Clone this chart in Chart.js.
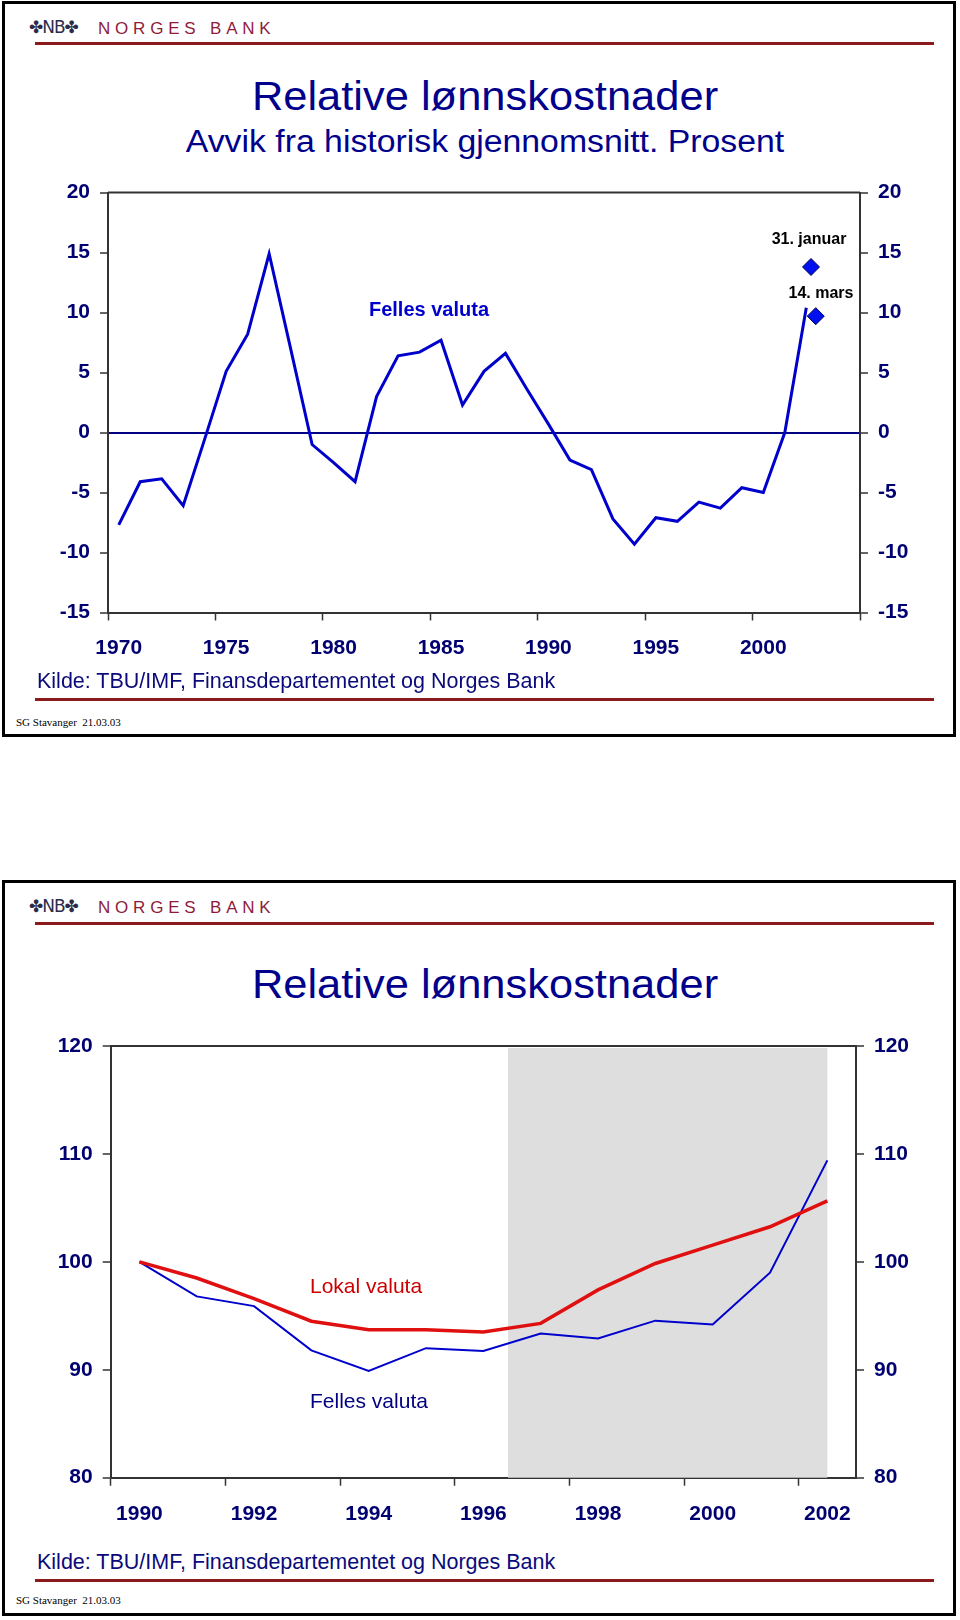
<!DOCTYPE html>
<html lang="no">
<head>
<meta charset="utf-8">
<title>Relative lønnskostnader</title>
<script src="https://cdn.jsdelivr.net/npm/chart.js@4.4.1/dist/chart.umd.min.js"></script>
<style>
  html, body { margin: 0; padding: 0; background: #fff; }
  body { width: 960px; height: 1620px; position: relative; overflow: hidden; font-family: 'Liberation Sans', Arial, sans-serif; }
  .panel { position: absolute; left: 2px; width: 954px; border: 3px solid #000; box-sizing: border-box; }
  .txt { position: absolute; white-space: nowrap; transform: translateY(-50%); line-height: 1; z-index: 2; }
  .center { transform: translate(-50%, -50%); }
  .logo-mark { font-family: 'DejaVu Sans', sans-serif; font-size: 17px; color: #2b2b4a; letter-spacing: -1px; }
  .logo-name { font-size: 17px; letter-spacing: 4.8px; color: #8e1b3a; }
  .rule { position: absolute; left: 35px; width: 899px; height: 3px; background: #8b1a1a; }
  .title { font-size: 41px; color: #00008b; transform: translate(-50%, -50%) scaleX(1.06); }
  .subtitle { font-size: 31px; color: #00008b; transform: translate(-50%, -50%) scaleX(1.09); }
  .source { font-size: 21.5px; color: #0a0a7a; }
  .stamp { font-family: 'Liberation Serif', 'Times New Roman', serif; font-size: 11px; color: #000; }
  canvas { position: absolute; left: 0; z-index: 1; }
</style>
</head>
<body>

<div class="panel" style="top:1px; height:736px;"></div>
<div class="panel" style="top:880px; height:736px;"></div>

<!-- Panel 1 -->
<div class="txt logo-mark" style="left:29px; top:27px;">✤NB✤</div>
<div class="txt logo-name" style="left:98px; top:27.5px;">NORGES BANK</div>
<div class="rule" style="top:42px;"></div>
<div class="txt title" style="left:485px; top:96px;">Relative lønnskostnader</div>
<div class="txt subtitle" style="left:485px; top:141px;">Avvik fra historisk gjennomsnitt. Prosent</div>
<div class="txt center" style="left:429px; top:309px; font-size:20px; font-weight:bold; color:#0000cc;">Felles valuta</div>
<div class="txt center" style="left:809px; top:239px; font-size:16px; font-weight:bold; color:#000;">31. januar</div>
<div class="txt center" style="left:821px; top:293px; font-size:16px; font-weight:bold; color:#000;">14. mars</div>
<div class="txt source" style="left:37px; top:682px;">Kilde: TBU/IMF, Finansdepartementet og Norges Bank</div>
<div class="rule" style="top:698px;"></div>
<div class="txt stamp" style="left:16px; top:722px;">SG Stavanger&nbsp; 21.03.03</div>

<!-- Panel 2 -->
<div class="txt logo-mark" style="left:29px; top:906px;">✤NB✤</div>
<div class="txt logo-name" style="left:98px; top:906.5px;">NORGES BANK</div>
<div class="rule" style="top:922px;"></div>
<div class="txt title" style="left:485px; top:984px;">Relative lønnskostnader</div>
<div class="txt" style="left:310px; top:1285px; font-size:21px; color:#cc0000;">Lokal valuta</div>
<div class="txt" style="left:310px; top:1400px; font-size:21px; color:#000080;">Felles valuta</div>
<div class="txt source" style="left:37px; top:1563px;">Kilde: TBU/IMF, Finansdepartementet og Norges Bank</div>
<div class="rule" style="top:1579px;"></div>
<div class="txt stamp" style="left:16px; top:1600px;">SG Stavanger&nbsp; 21.03.03</div>

<canvas id="avvikChart" width="960" height="500" style="top:170px;"></canvas>
<canvas id="indeksChart" width="960" height="520" style="top:1020px;"></canvas>

<script>
// ---- Top chart: deviation from historical mean, percent ----
const avvikYears = [1970, 1971, 1972, 1973, 1974, 1975, 1976, 1977, 1978, 1979,
  1980, 1981, 1982, 1983, 1984, 1985, 1986, 1987, 1988, 1989,
  1990, 1991, 1992, 1993, 1994, 1995, 1996, 1997, 1998, 1999,
  2000, 2001, 2002];
const fellesAvvik = [-7.7, -4.1, -3.85, -6.1, -0.55, 5.1, 8.2, 14.9, 7.0, -1.0,
  -2.5, -4.1, 3.0, 6.4, 6.7, 7.7, 2.3, 5.1, 6.6, 3.6,
  0.7, -2.3, -3.1, -7.2, -9.3, -7.1, -7.4, -5.8, -6.3, -4.6,
  -5.0, 0.0, 10.4];
// 2003 observations (31. januar, 14. mars)
const markerX = [2002.22, 2002.44];
const markerY = [13.8, 9.7];
const avvikXLabels = ['1970', '1975', '1980', '1985', '1990', '1995', '2000'];
const avvikYTicks = [-15, -10, -5, 0, 5, 10, 15, 20];

// ---- Bottom chart: index 1990 = 100 ----
const indeksYears = [1990, 1991, 1992, 1993, 1994, 1995, 1996, 1997, 1998, 1999, 2000, 2001, 2002];
const lokalValuta = [100, 98.5, 96.6, 94.5, 93.7, 93.7, 93.5, 94.3, 97.4, 99.85, 101.55, 103.25, 105.65];
const fellesValuta = [100, 96.8, 95.9, 91.8, 89.9, 92.0, 91.75, 93.35, 92.9, 94.55, 94.2, 99.0, 109.4];
const indeksXLabels = ['1990', '1992', '1994', '1996', '1998', '2000', '2002'];
const indeksYTicks = [80, 90, 100, 110, 120];
const shadeSpan = [1996.43, 2002.0];

const FONT = "'Liberation Sans', Arial, sans-serif";
const tickFont = { family: FONT, size: 21, weight: 'bold' };
const LABEL_COLOR = '#000070';
const AXIS_COLOR = '#333';

// draws the top edge of the plot box
const frameTop = {
  id: 'frameTop',
  afterDraw(chart) {
    const { ctx, chartArea: a } = chart;
    ctx.save();
    ctx.strokeStyle = AXIS_COLOR;
    ctx.lineWidth = 2;
    ctx.beginPath();
    ctx.moveTo(a.left, a.top);
    ctx.lineTo(a.right, a.top);
    ctx.stroke();
    ctx.restore();
  }
};

// grey forecast band in the index chart
const shadeBand = {
  id: 'shadeBand',
  beforeDatasetsDraw(chart) {
    const { ctx, chartArea: a, scales } = chart;
    const x0 = scales.x.getPixelForValue(shadeSpan[0]);
    const x1 = scales.x.getPixelForValue(shadeSpan[1]);
    ctx.save();
    ctx.fillStyle = '#dedede';
    ctx.fillRect(x0, a.top + 2, x1 - x0, a.bottom - a.top - 2);
    ctx.restore();
  }
};

function yAxis(position, ticks, width, zeroLine) {
  return {
    type: 'linear',
    position: position,
    min: ticks[0],
    max: ticks[ticks.length - 1],
    afterBuildTicks: s => { s.ticks = ticks.map(v => ({ value: v })); },
    afterFit: s => { s.width = width; },
    border: { color: AXIS_COLOR, width: 2 },
    grid: {
      drawOnChartArea: !!zeroLine,
      color: c => (zeroLine && c.tick && c.tick.value === 0) ? '#000080' : 'rgba(0,0,0,0)',
      lineWidth: 2,
      tickColor: AXIS_COLOR,
      tickWidth: 1.5,
      tickLength: 8
    },
    ticks: { font: tickFont, color: LABEL_COLOR, padding: 10 }
  };
}

function xAxis(labels, lastBoundary, height, labelOffset, padding) {
  return {
    type: 'linear',
    position: 'bottom',
    min: Number(labels[0]) - 0.5,
    max: lastBoundary,
    afterBuildTicks: s => {
      const t = labels.map(l => ({ value: Number(l) - 0.5 }));
      if (lastBoundary > t[t.length - 1].value + 1) t.push({ value: lastBoundary });
      s.ticks = t;
    },
    afterFit: s => { s.height = height; },
    border: { color: AXIS_COLOR, width: 2 },
    grid: { drawOnChartArea: false, tickColor: AXIS_COLOR, tickWidth: 1.5, tickLength: 8 },
    ticks: {
      font: tickFont,
      color: LABEL_COLOR,
      padding: padding,
      maxRotation: 0,
      autoSkip: false,
      labelOffset: labelOffset,
      callback: v => {
        const lbl = String(v + 0.5);
        return labels.includes(lbl) ? lbl : '';
      }
    }
  };
}

const baseOptions = {
  responsive: false,
  animation: false,
  devicePixelRatio: 1,
  plugins: { legend: { display: false }, tooltip: { enabled: false } },
  elements: { point: { radius: 0 }, line: { tension: 0 } }
};

new Chart(document.getElementById('avvikChart'), {
  type: 'line',
  data: {
    datasets: [
      {
        label: 'Felles valuta',
        data: avvikYears.map((y, i) => ({ x: y, y: fellesAvvik[i] })),
        borderColor: '#0000cc',
        borderWidth: 3,
        pointRadius: 0
      },
      {
        label: '2003',
        data: markerX.map((x, i) => ({ x: x, y: markerY[i] })),
        showLine: false,
        pointStyle: 'rectRot',
        pointRadius: 8.5,
        backgroundColor: '#0010ee',
        borderColor: '#000050',
        borderWidth: 1
      }
    ]
  },
  options: Object.assign({}, baseOptions, {
    layout: { padding: { top: 17.5, left: 0, right: 0, bottom: 0 } },
    scales: {
      x: xAxis(avvikXLabels, 2004.5, 57.5, 10.7, 15),
      y: yAxis('left', avvikYTicks, 108, true),
      y2: yAxis('right', avvikYTicks, 100, false)
    }
  }),
  plugins: [frameTop]
});

new Chart(document.getElementById('indeksChart'), {
  type: 'line',
  data: {
    datasets: [
      {
        label: 'Lokal valuta',
        data: indeksYears.map((y, i) => ({ x: y, y: lokalValuta[i] })),
        borderColor: '#e01010',
        borderWidth: 3.5
      },
      {
        label: 'Felles valuta',
        data: indeksYears.map((y, i) => ({ x: y, y: fellesValuta[i] })),
        borderColor: '#0000cc',
        borderWidth: 2
      }
    ]
  },
  options: Object.assign({}, baseOptions, {
    layout: { padding: { top: 26, left: 0, right: 0, bottom: 0 } },
    scales: {
      x: xAxis(indeksXLabels, 2002.5, 62.3, 28.7, 16),
      y: yAxis('left', indeksYTicks, 110.7, false),
      y2: yAxis('right', indeksYTicks, 104, false)
    }
  }),
  plugins: [shadeBand, frameTop]
});
</script>
</body>
</html>
